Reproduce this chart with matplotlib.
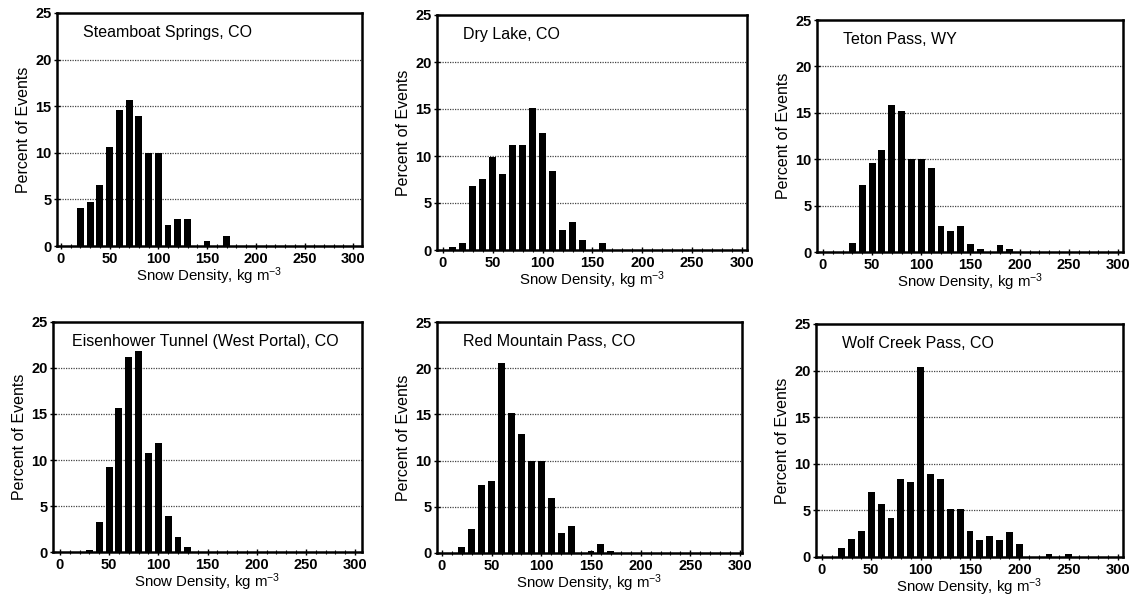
import matplotlib
matplotlib.use("Agg")
import matplotlib.pyplot as plt
import numpy as np

plt.rcParams['font.family'] = ['Liberation Sans', 'DejaVu Sans']
plt.rcParams['mathtext.fontset'] = 'custom'
plt.rcParams['mathtext.rm'] = 'Liberation Sans'
plt.rcParams['mathtext.it'] = 'Liberation Sans'
plt.rcParams['mathtext.bf'] = 'Liberation Sans:bold'

# Bin centres (kg m^-3)
bins = [10, 20, 30, 40, 50, 60, 70, 80, 90, 100, 110, 120, 130, 140, 150,
        160, 170, 180, 190, 200, 210, 220, 230, 240, 250]

titles = ["Steamboat Springs, CO", "Dry Lake, CO", "Teton Pass, WY",
          "Eisenhower Tunnel (West Portal), CO", "Red Mountain Pass, CO",
          "Wolf Creek Pass, CO"]

steamboat = [0, 4.1, 4.7, 6.5, 10.6, 14.6, 15.7, 14.0, 10.0, 10.0, 2.3, 2.9, 2.9,
             0, 0.5, 0, 1.1, 0, 0, 0, 0, 0, 0, 0, 0]
dry_lake = [0.3, 0.7, 6.8, 7.6, 9.9, 8.1, 11.2, 11.2, 15.1, 12.5, 8.4, 2.1, 3.0,
            1.1, 0, 0.7, 0, 0, 0, 0, 0, 0, 0, 0, 0]
teton = [0, 0, 1.0, 7.2, 9.6, 11.0, 15.8, 15.2, 10.0, 10.0, 9.0, 2.8, 2.3,
         2.8, 0.9, 0.35, 0, 0.8, 0.35, 0, 0, 0, 0, 0, 0]
eisenhower = [0, 0, 0.2, 3.3, 9.2, 15.7, 21.2, 21.9, 10.8, 11.8, 3.9, 1.6, 0.5,
              0, 0, 0, 0, 0, 0, 0, 0, 0, 0, 0, 0]
red_mountain = [0, 0.7, 2.6, 7.4, 7.8, 20.6, 15.1, 12.9, 10.0, 10.0, 5.9, 2.2, 2.9,
                0, 0.2, 1.0, 0.2, 0, 0, 0, 0, 0, 0, 0, 0]
wolf_creek = [0, 1.0, 1.9, 2.8, 7.0, 5.7, 4.2, 8.4, 8.0, 20.4, 8.9, 8.4, 5.1,
              5.1, 2.8, 1.8, 2.3, 1.8, 2.7, 1.4, 0, 0, 0.3, 0, 0.3]

series = [steamboat, dry_lake, teton, eisenhower, red_mountain, wolf_creek]

W, H = 1135, 599
fig = plt.figure(figsize=(W / 100, H / 100), dpi=100)

# panel boxes in pixels: left, right, top, bottom
boxes = [(57, 362, 13, 246), (437, 747, 15, 250), (817, 1123, 20, 252),
         (53, 362, 322, 552), (437, 742, 322, 553), (816, 1123, 324, 557)]
xlims = [(-4, 309), (-6, 305), (-6, 305), (-7, 307), (-5, 302), (-6, 305)]
title_x = [0.085, 0.085, 0.085, 0.062, 0.085, 0.085]

for i, (title, vals) in enumerate(zip(titles, series)):
    l, rgt, t, b = boxes[i]
    ax = fig.add_axes([l / W, 1 - b / H, (rgt - l) / W, (b - t) / H])
    ax.bar(bins, vals, width=7, color='black', zorder=3)
    ax.set_xlim(*xlims[i])
    ax.set_ylim(0, 25)
    ax.set_xticks([0, 50, 100, 150, 200, 250, 300])
    ax.set_xticks(np.arange(0, 301, 10), minor=True)
    ax.set_yticks([0, 5, 10, 15, 20, 25])
    for yv in [5, 10, 15, 20]:
        ax.axhline(yv, color='#444444', linestyle=(0, (1, 1)), linewidth=0.9, zorder=1)
    ax.tick_params(axis='both', which='major', direction='inout', length=4,
                   width=1, labelsize=10.5, pad=2)
    ax.tick_params(axis='x', which='minor', direction='inout', length=3, width=0.8)
    for lab in ax.get_xticklabels() + ax.get_yticklabels():
        lab.set_fontweight('bold')
    for sp in ax.spines.values():
        sp.set_linewidth(1.8)
    ax.set_xlabel("Snow Density, kg m$^{-3}$", fontsize=10.8, labelpad=0)
    ax.set_ylabel("Percent of Events", fontsize=11.5, labelpad=3)
    ax.text(title_x[i], 0.915, title, transform=ax.transAxes,
            fontsize=11.5, ha='left', va='center')

fig.savefig("out.png", dpi=100)
